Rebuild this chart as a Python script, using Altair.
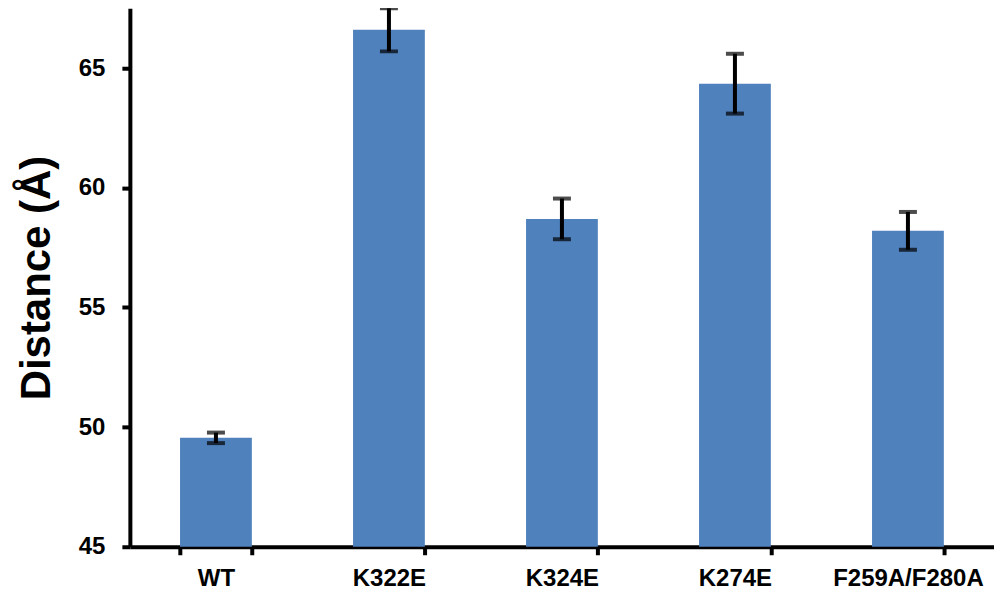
import altair as alt
import pandas as pd

categories = ["WT", "K322E", "K324E", "K274E", "F259A/F280A"]
means = [49.55, 66.6, 58.7, 64.35, 58.2]
errors = [0.22, 0.9, 0.85, 1.25, 0.79]

df = pd.DataFrame({"cat": categories, "mean": means, "err": errors})
df["lo"] = df["mean"] - df["err"]
df["hi"] = df["mean"] + df["err"]

x_enc = alt.X("cat:N", sort=categories, title=None,
              scale=alt.Scale(paddingInner=0.585, paddingOuter=0.29),
              axis=alt.Axis(labelAngle=0, labelFont="Liberation Sans",
                            labelFontWeight="bold", labelFontSize=24, labelColor="black",
                            labelPadding=12, domainColor="black", domainWidth=4,
                            tickColor="black", tickWidth=4, tickSize=8,
                            tickBand="extent"))

y_scale = alt.Scale(domain=[45, 67.5], nice=False, zero=False)

bars = alt.Chart(df).mark_bar(color="#4F81BD").encode(
    x=x_enc,
    y=alt.Y("mean:Q", scale=y_scale, title="Distance (Å)",
            axis=alt.Axis(values=[45, 50, 55, 60, 65], grid=False,
                          labelFont="Liberation Sans", labelFontWeight="bold",
                          labelFontSize=24, labelColor="black", labelPadding=17,
                          titleFont="Liberation Sans", titleFontWeight="bold",
                          titleFontSize=42, titleColor="black", titlePadding=20,
                          domainColor="black", domainWidth=4,
                          tickColor="black", tickWidth=4, tickSize=8)),
    y2=alt.datum(45),
)

rules = alt.Chart(df).mark_rule(color="black", strokeWidth=4).encode(
    x=alt.X("cat:N", sort=categories),
    y=alt.Y("lo:Q", scale=y_scale),
    y2="hi:Q",
)

caps_lo = alt.Chart(df).mark_tick(color="black", thickness=4, size=18, orient="horizontal").encode(
    x=alt.X("cat:N", sort=categories),
    y=alt.Y("lo:Q", scale=y_scale),
)
caps_hi = alt.Chart(df).mark_tick(color="black", thickness=4, size=18, orient="horizontal").encode(
    x=alt.X("cat:N", sort=categories),
    y=alt.Y("hi:Q", scale=y_scale),
)

chart = alt.layer(bars, rules, caps_lo, caps_hi).properties(
    width=865, height=539,
    autosize=alt.AutoSizeParams(type="none"),
    padding={"left": 122, "top": 0, "right": 0, "bottom": 50},
).configure(background="white").configure_view(stroke=None)

chart.save("out.html", embed_options={"renderer": "svg", "actions": False})
